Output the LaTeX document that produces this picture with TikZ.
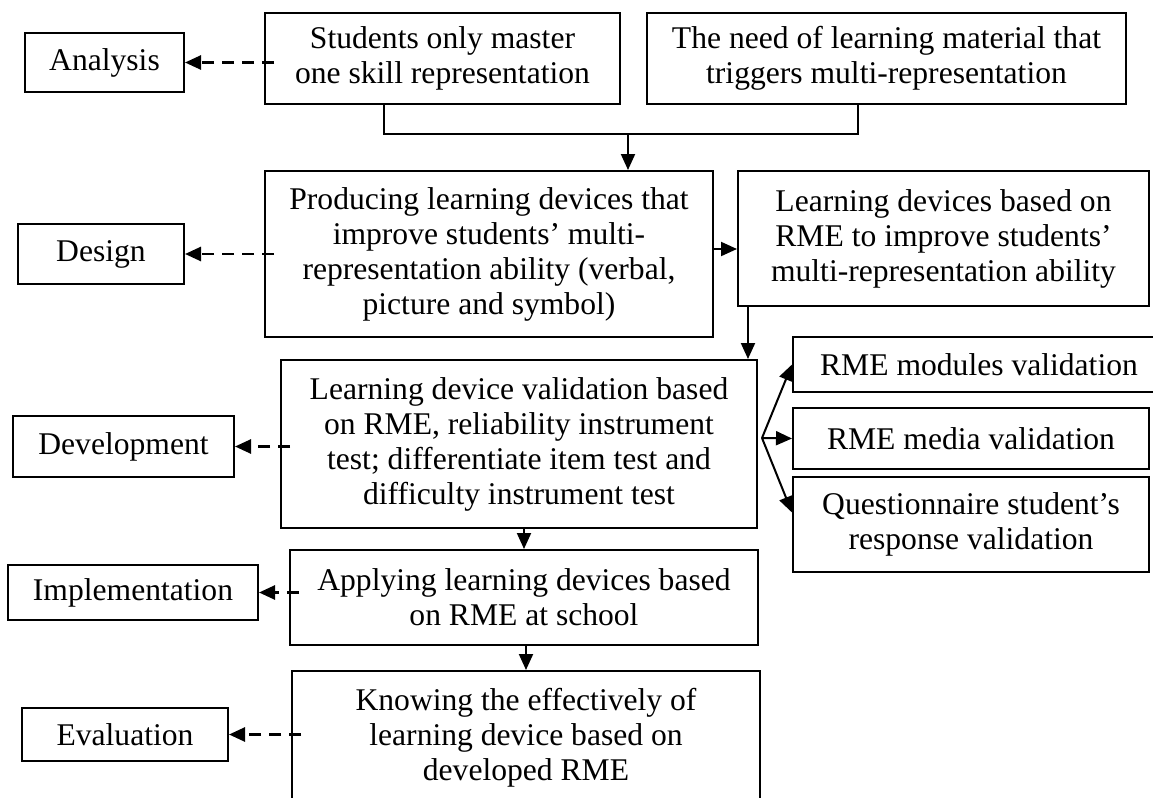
\documentclass[tikz,border=0pt]{standalone}
\usepackage{fontspec}
\setmainfont{Liberation Serif}
\usetikzlibrary{arrows.meta}
\tikzset{box/.style={draw,line width=1pt,align=center,inner sep=0pt,
           font=\fontsize{15.8}{17.5}\selectfont},
         arr/.style={line width=1pt,-{Triangle[length=8pt,width=7pt]}},
         darr/.style={arr,line width=1.3pt,dash pattern=on 6pt off 4pt}}

\begin{document}
\begin{tikzpicture}[x=0.5pt,y=-0.5pt]
\useasboundingbox (0,0) rectangle (1153,798);
\node[box,minimum width=177.5pt,minimum height=45.5pt] (stud) at (442.5,58.5)
  {Students only master\\one skill representation};
\node[box,minimum width=239.5pt,minimum height=45.5pt] (need) at (886.5,58.5)
  {The need of learning material that\\triggers multi-representation};
\node[box,minimum width=224pt,minimum height=83pt] (prod) at (489,254)
  {Producing learning devices that\\improve students’ multi-\\representation ability (verbal,\\picture and symbol)};
\node[box,minimum width=205.5pt,minimum height=67.5pt] (ldev) at (943.5,238.5)
  {Learning devices based on\\RME to improve students’\\multi-representation ability};
\node[box,minimum width=238pt,minimum height=84pt] (devt) at (519,444)
  {Learning device validation based\\on RME, reliability instrument\\test; differentiate item test and\\difficulty instrument test};
\node[box,minimum width=186pt,minimum height=27.5pt] (mod) at (979,364.5)
  {RME modules validation};
\node[box,minimum width=178pt,minimum height=30.5pt] (med) at (971,438.5)
  {RME media validation};
\node[box,minimum width=178pt,minimum height=47.5pt] (quest) at (971,524.5)
  {Questionnaire student’s\\response validation};
\node[box,minimum width=234pt,minimum height=47.5pt] (appl) at (524,597.5)
  {Applying learning devices based\\on RME at school};
\node[box,minimum width=234pt,minimum height=67pt] (know) at (526,738)
  {Knowing the effectively of\\learning device based on\\developed RME};

\node[box,minimum width=79.5pt,minimum height=29.5pt] (ana) at (104.5,62.5) {Analysis};
\node[box,minimum width=83pt,minimum height=30pt] (des) at (101,254) {Design};
\node[box,minimum width=110.5pt,minimum height=30.5pt] (dev) at (123.5,446.5) {Development};
\node[box,minimum width=125pt,minimum height=27.5pt] (impl) at (133,592.5) {Implementation};
\node[box,minimum width=103pt,minimum height=26.5pt] (eval) at (125,734.5) {Evaluation};

\coordinate (join) at (628,134);
\draw[line width=1pt] ([xshift=-29.25pt]stud.south) |- (join) -| ([xshift=-14.25pt]need.south);
\draw[arr] (join) -- (join |- prod.north);
\draw[arr] ([yshift=2.5pt]prod.east) -- ([yshift=2.5pt]prod.east -| ldev.west);
\draw[arr] ([xshift=5.5pt]ldev.south west) -- ([xshift=5.5pt]ldev.south west |- devt.north);
\draw[arr] (appl.north |- devt.south) -- (appl.north);
\draw[arr] (know.north |- appl.south) -- (know.north);

\coordinate (fan) at (762,438);
\foreach \t/\s in {mod/0pt,med/0pt,quest/6pt}
  \draw[arr] (fan) -- ([yshift=\s]\t.west);

\foreach \a/\b in {stud/ana,prod/des,devt/dev,appl/impl,know/eval}
  \draw[darr] ([xshift=5pt]\b.east -| \a.west) -- (\b.east);
\end{tikzpicture}
\end{document}
